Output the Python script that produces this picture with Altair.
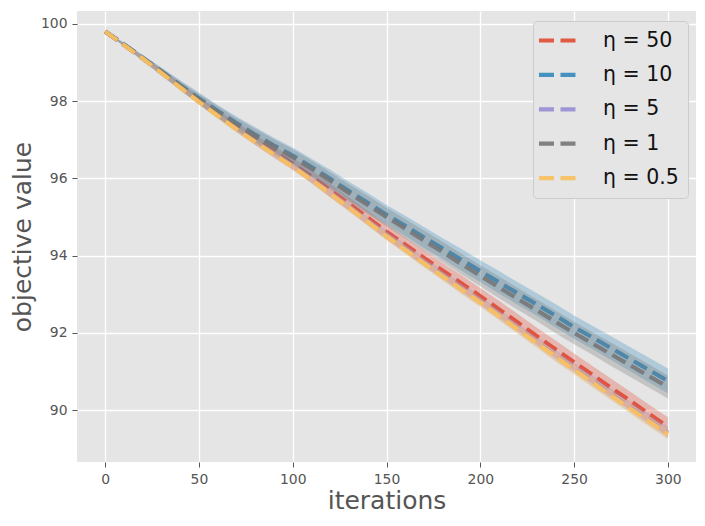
import altair as alt
import pandas as pd

iterations = list(range(0, 301, 10))
eta_labels = ["η = 50", "η = 10", "η = 5", "η = 1", "η = 0.5"]
eta_colors = ["#E24A33", "#348ABD", "#988ED5", "#777777", "#FBC15E"]

mean_50 = [99.80, 99.46, 99.11, 98.75, 98.38, 98.02, 97.67, 97.33, 97.00, 96.69, 96.38,
           96.04, 95.69, 95.34, 94.98, 94.62, 94.28, 93.94, 93.61, 93.28, 92.95,
           92.61, 92.27, 91.92, 91.58, 91.24, 90.91, 90.57, 90.24, 89.90, 89.57]
mean_10 = [99.80, 99.47, 99.12, 98.77, 98.41, 98.07, 97.74, 97.43, 97.13, 96.85, 96.59,
           96.29, 95.99, 95.67, 95.37, 95.06, 94.77, 94.47, 94.18, 93.89, 93.60,
           93.31, 93.02, 92.74, 92.45, 92.15, 91.88, 91.60, 91.32, 91.04, 90.76]
mean_5 = [99.80, 99.45, 99.10, 98.73, 98.36, 97.99, 97.63, 97.28, 96.95, 96.63, 96.32,
          95.98, 95.62, 95.26, 94.89, 94.53, 94.18, 93.83, 93.49, 93.15, 92.82,
          92.47, 92.12, 91.77, 91.42, 91.09, 90.75, 90.41, 90.08, 89.75, 89.42]
mean_1 = [99.80, 99.46, 99.11, 98.76, 98.40, 98.05, 97.72, 97.40, 97.10, 96.82, 96.55,
          96.25, 95.94, 95.62, 95.31, 95.00, 94.70, 94.39, 94.09, 93.78, 93.48,
          93.18, 92.88, 92.59, 92.29, 92.00, 91.72, 91.44, 91.16, 90.88, 90.60]
mean_05 = [99.80, 99.45, 99.10, 98.73, 98.35, 97.98, 97.62, 97.27, 96.94, 96.62, 96.30,
           95.96, 95.60, 95.24, 94.87, 94.50, 94.15, 93.80, 93.46, 93.12, 92.79,
           92.44, 92.09, 91.74, 91.39, 91.05, 90.71, 90.37, 90.04, 89.71, 89.38]

sd_50 = [0.00, 0.03, 0.05, 0.07, 0.08, 0.10, 0.11, 0.12, 0.13, 0.14, 0.15,
         0.16, 0.17, 0.17, 0.18, 0.19, 0.19, 0.20, 0.20, 0.21, 0.21,
         0.22, 0.22, 0.22, 0.23, 0.23, 0.23, 0.24, 0.24, 0.24, 0.25]
sd_10 = [0.00, 0.05, 0.08, 0.10, 0.13, 0.15, 0.16, 0.17, 0.19, 0.20, 0.21,
         0.22, 0.23, 0.24, 0.25, 0.25, 0.26, 0.27, 0.27, 0.28, 0.28,
         0.29, 0.29, 0.29, 0.30, 0.30, 0.30, 0.31, 0.31, 0.32, 0.32]
sd_5 = [0.00, 0.03, 0.05, 0.06, 0.07, 0.08, 0.08, 0.09, 0.09, 0.10, 0.10,
        0.10, 0.11, 0.11, 0.11, 0.12, 0.12, 0.12, 0.12, 0.13, 0.13,
        0.13, 0.13, 0.13, 0.14, 0.14, 0.14, 0.14, 0.14, 0.15, 0.15]
sd_1 = [0.00, 0.04, 0.07, 0.09, 0.11, 0.13, 0.15, 0.16, 0.18, 0.19, 0.20,
        0.21, 0.22, 0.23, 0.24, 0.24, 0.25, 0.26, 0.26, 0.27, 0.27,
        0.28, 0.28, 0.28, 0.29, 0.29, 0.29, 0.30, 0.30, 0.30, 0.30]
sd_05 = [0.00, 0.02, 0.04, 0.05, 0.06, 0.07, 0.07, 0.08, 0.08, 0.09, 0.09,
         0.09, 0.10, 0.10, 0.10, 0.11, 0.11, 0.11, 0.11, 0.12, 0.12,
         0.12, 0.12, 0.13, 0.13, 0.13, 0.13, 0.13, 0.14, 0.14, 0.14]

means = [mean_50, mean_10, mean_5, mean_1, mean_05]
sds = [sd_50, sd_10, sd_5, sd_1, sd_05]

rows = []
for label, m, s in zip(eta_labels, means, sds):
    for it, mv, sv in zip(iterations, m, s):
        rows.append({"eta": label, "it": it, "mean": mv, "lo": mv - sv, "hi": mv + sv})
df = pd.DataFrame(rows)

xscale = alt.Scale(domain=[-15, 315], nice=False, zero=False)
yscale = alt.Scale(domain=[88.66, 100.33], nice=False, zero=False)
xaxis = alt.Axis(title="iterations", values=[0, 50, 100, 150, 200, 250, 300],
                 titlePadding=3)
yaxis = alt.Axis(title="objective value", values=[90, 92, 94, 96, 98, 100],
                 titlePadding=5)
cscale = alt.Scale(domain=eta_labels, range=eta_colors)

legend = alt.Legend(
    orient="none", legendX=456, legendY=10, title=None,
    symbolType="M-2.44,0H2.44", symbolSize=256, symbolStrokeWidth=4.2,
    symbolDash=[15, 6.5], symbolOffset=6, labelOffset=34,
    symbolOpacity=0.9, symbolFillColor="transparent",
    labelFontSize=20.5, labelFont="DejaVu Sans", labelColor="#111111",
    padding=9, rowPadding=13.4, fillColor="#E5E5E5", strokeColor="#CCCCCC",
    cornerRadius=4,
)

layers = []
for label in eta_labels:
    base = alt.Chart(df).transform_filter(alt.datum.eta == label)
    band = base.mark_area(opacity=0.3).encode(
        x=alt.X("it:Q", scale=xscale, axis=xaxis),
        y=alt.Y("lo:Q", scale=yscale, axis=yaxis),
        y2="hi:Q",
        color=alt.Color("eta:N", scale=cscale, legend=legend),
    )
    line = base.mark_line(strokeDash=[15, 6.5], strokeWidth=4.2, opacity=0.92).encode(
        x=alt.X("it:Q", scale=xscale, axis=xaxis),
        y=alt.Y("mean:Q", scale=yscale, axis=yaxis),
        color=alt.Color("eta:N", scale=cscale, legend=legend),
    )
    layers.extend([band, line])

chart = alt.layer(*layers).properties(
    width=619, height=451,
    padding={"left": 69, "top": 3, "right": 0, "bottom": 55},
    autosize=alt.AutoSizeParams(type="none"),
    background="white",
).configure_view(
    fill="#E5E5E5", stroke=None
).configure_axis(
    grid=True, gridColor="white", gridWidth=1.3, domain=False,
    tickColor="#555555", tickSize=5, tickWidth=1,
    labelColor="#555555", labelFontSize=13.9, labelFont="DejaVu Sans", labelPadding=5,
    titleColor="#555555", titleFontSize=25, titleFont="DejaVu Sans",
    titleFontWeight="normal",
)

chart.save("out.html", embed_options={"renderer": "svg", "actions": False})
